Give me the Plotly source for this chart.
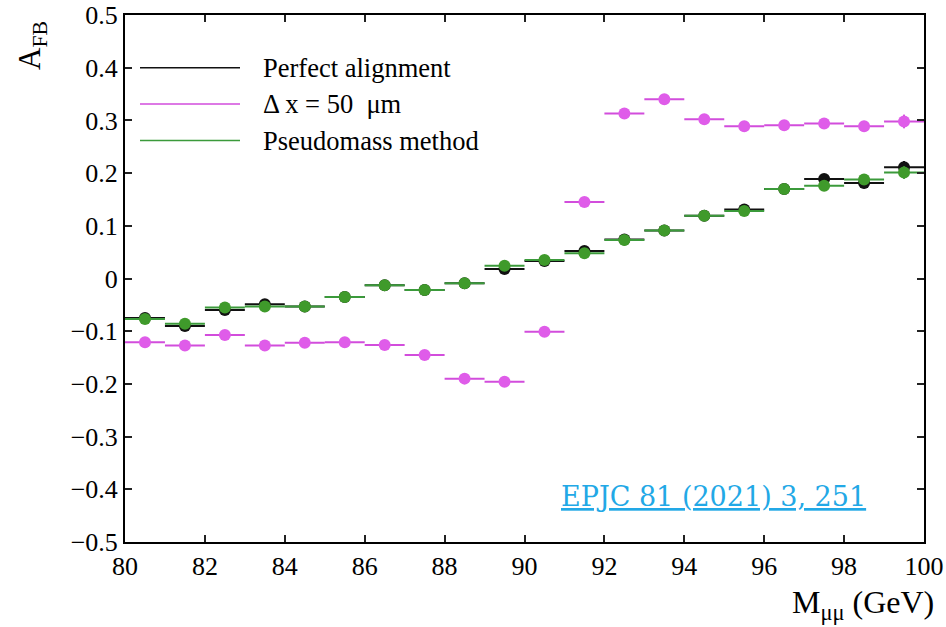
import plotly.graph_objects as go

# Bin centres of the dimuon invariant mass (GeV), 1 GeV wide bins
mass = [80.5, 81.5, 82.5, 83.5, 84.5, 85.5, 86.5, 87.5, 88.5, 89.5,
        90.5, 91.5, 92.5, 93.5, 94.5, 95.5, 96.5, 97.5, 98.5, 99.5]
half_bin = [0.5] * len(mass)

afb_perfect = [-0.075, -0.090, -0.060, -0.049, -0.053, -0.035, -0.013, -0.022, -0.009, 0.018,
               0.033, 0.052, 0.074, 0.091, 0.119, 0.131, 0.170, 0.189, 0.181, 0.211]
err_perfect = [0.004, 0.004, 0.004, 0.004, 0.004, 0.004, 0.004, 0.004, 0.004, 0.004,
               0.004, 0.004, 0.004, 0.004, 0.005, 0.005, 0.006, 0.008, 0.010, 0.012]

afb_misaligned = [-0.121, -0.127, -0.107, -0.127, -0.122, -0.121, -0.126, -0.145, -0.190, -0.196,
                  -0.101, 0.145, 0.313, 0.340, 0.302, 0.289, 0.291, 0.294, 0.289, 0.298]
err_misaligned = [0.004, 0.004, 0.004, 0.004, 0.004, 0.004, 0.004, 0.004, 0.004, 0.004,
                  0.004, 0.004, 0.004, 0.004, 0.005, 0.005, 0.006, 0.008, 0.010, 0.013]

afb_pseudomass = [-0.077, -0.086, -0.055, -0.053, -0.053, -0.035, -0.013, -0.022, -0.009, 0.024,
                  0.035, 0.048, 0.073, 0.091, 0.119, 0.128, 0.170, 0.176, 0.188, 0.201]
err_pseudomass = [0.004, 0.004, 0.004, 0.004, 0.004, 0.004, 0.004, 0.004, 0.004, 0.004,
                  0.004, 0.004, 0.004, 0.004, 0.005, 0.005, 0.006, 0.008, 0.010, 0.012]

legend_labels = ["Perfect alignment", "\u0394 x = 50  \u03bcm", "Pseudomass method"]

xtick_vals = [80, 82, 84, 86, 88, 90, 92, 94, 96, 98, 100]
xtick_text = ["80", "82", "84", "86", "88", "90", "92", "94", "96", "98", "100"]
ytick_vals = [-0.5, -0.4, -0.3, -0.2, -0.1, 0, 0.1, 0.2, 0.3, 0.4, 0.5]
ytick_text = ["\u22120.5", "\u22120.4", "\u22120.3", "\u22120.2", "\u22120.1", "0",
              "0.1", "0.2", "0.3", "0.4", "0.5"]

BLACK = "#111111"
MAGENTA_PT = "#df5ce9"
MAGENTA_LN = "#d24ddc"
GREEN_PT = "#3f9a2b"
GREEN_LN = "#3b9a3b"
SERIF = "Liberation Serif"

series = [
    (afb_perfect, err_perfect, BLACK, BLACK),
    (afb_misaligned, err_misaligned, MAGENTA_PT, MAGENTA_LN),
    (afb_pseudomass, err_pseudomass, GREEN_PT, GREEN_LN),
]

fig = go.Figure()
for (vals, errs, pt_col, ln_col), name in zip(series, legend_labels):
    fig.add_trace(go.Scatter(
        x=mass, y=vals, mode="markers", name=name, showlegend=False,
        marker=dict(size=12, color=pt_col, line=dict(width=0)),
        error_x=dict(type="data", array=half_bin, color=ln_col, thickness=2, width=0),
        error_y=dict(type="data", array=errs, color=ln_col, thickness=2, width=0),
    ))

# Plot area in page pixels: x 125..924, y 15..542
def px_x(p):  # page pixel -> paper fraction (x)
    return (p - 125) / 799


def px_y(p):  # page pixel -> paper fraction (y)
    return (542 - p) / 527


# Hand-drawn legend: long line samples followed by labels
legend_rows = [67.7, 104.0, 140.5]
legend_cols = [BLACK, MAGENTA_LN, GREEN_LN]
for ypix, col, label in zip(legend_rows, legend_cols, legend_labels):
    fig.add_shape(type="line", xref="paper", yref="paper",
                  x0=px_x(140), x1=px_x(240), y0=px_y(ypix), y1=px_y(ypix),
                  line=dict(color=col, width=1.5))
    fig.add_annotation(xref="paper", yref="paper", x=px_x(261), y=px_y(ypix),
                       xanchor="left", yanchor="middle", showarrow=False,
                       text=label, font=dict(family=SERIF, size=26.5, color="black"))

# Axis titles
fig.add_annotation(xref="paper", yref="paper", x=px_x(32), y=px_y(46),
                   xanchor="center", yanchor="middle", showarrow=False, textangle=-90,
                   text="A<sub>FB</sub>", font=dict(family=SERIF, size=31, color="black"))
fig.add_annotation(xref="paper", yref="paper", x=px_x(936), y=px_y(604),
                   xanchor="right", yanchor="middle", showarrow=False,
                   text="M<sub>\u03bc\u03bc</sub> (GeV)", font=dict(family=SERIF, size=32, color="black"))

# Reference link
fig.add_annotation(xref="paper", yref="paper", x=px_x(559), y=px_y(497),
                   xanchor="left", yanchor="middle", showarrow=False,
                   text='<a href="https://doi.org/10.1140/epjc/s10052-021-09010-8" style="color:#22a8e6"><u>EPJC 81 (2021) 3, 251</u></a>',
                   font=dict(family="DejaVu Serif", size=27, color="#22a8e6"))

tick_font = dict(family=SERIF, size=26, color="black")
axis_common = dict(
    showline=True, linecolor="black", linewidth=2, mirror="ticks",
    ticks="inside", ticklen=7, tickwidth=1.5, tickcolor="#222222",
    showgrid=False, zeroline=False, automargin=False,
    tickmode="array", tickfont=tick_font,
)

fig.update_layout(
    width=946, height=627,
    margin=dict(l=125, r=22, t=15, b=85),
    paper_bgcolor="white", plot_bgcolor="white",
    font=dict(family=SERIF, size=26, color="black"),
    showlegend=False,
    xaxis=dict(range=[80, 100], tickvals=xtick_vals, ticktext=xtick_text, **axis_common),
    yaxis=dict(range=[-0.5, 0.5], tickvals=ytick_vals, ticktext=ytick_text, **axis_common),
)

fig.write_html("out.html")
